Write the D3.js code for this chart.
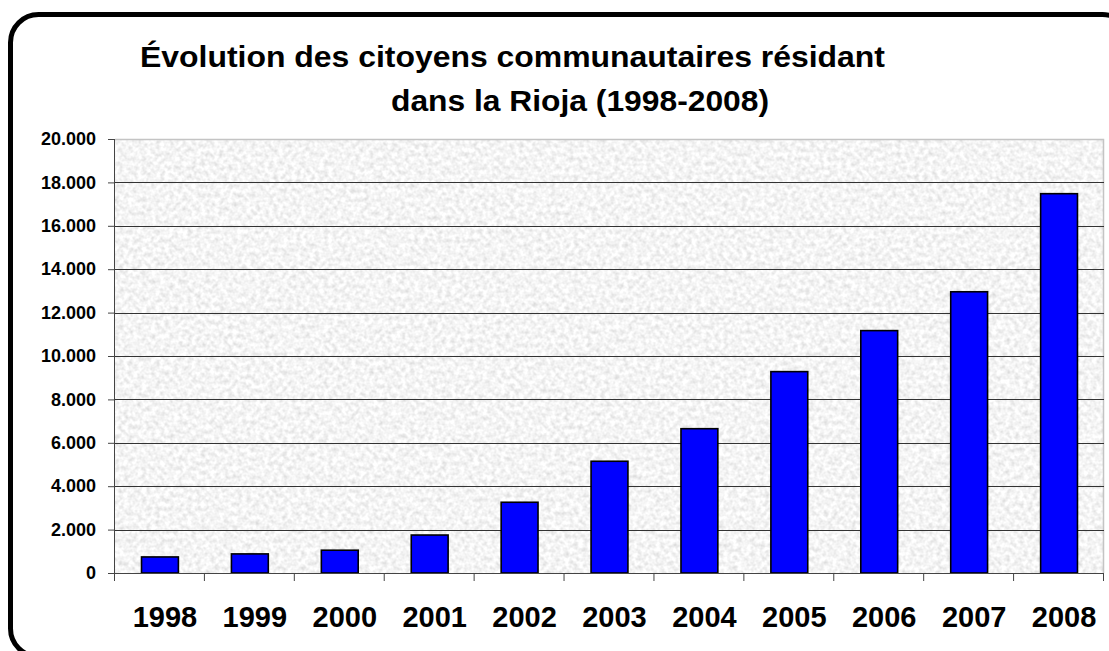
<!DOCTYPE html>
<html>
<head>
<meta charset="utf-8">
<script src="https://cdn.jsdelivr.net/npm/d3@7"></script>
<style>
  html, body { margin: 0; padding: 0; background: #fff; overflow: hidden; }
  text { font-family: 'Liberation Sans', Arial, Helvetica, sans-serif; font-weight: bold; fill: #000; }
</style>
</head>
<body>
<svg id="chart"></svg>
<script>
const years = ['1998', '1999', '2000', '2001', '2002', '2003', '2004', '2005', '2006', '2007', '2008']
const residents = [740, 880, 1050, 1750, 3260, 5150, 6650, 9280, 11170, 12960, 17480]
const yTicks = [0, 2000, 4000, 6000, 8000, 10000, 12000, 14000, 16000, 18000, 20000]
const titleLines = ['Évolution des citoyens communautaires résidant', 'dans la Rioja (1998-2008)']

const W = 1109
const H = 651
const margin = { top: 139, right: 5, bottom: 78, left: 115 }
const width = W - margin.left - margin.right
const height = H - margin.top - margin.bottom

const svg = d3.select('#chart').attr('width', W).attr('height', H)

// speckled grey texture of the plot area
const defs = svg.append('defs')
const tex = defs.append('filter')
  .attr('id', 'tex')
  .attr('filterUnits', 'userSpaceOnUse')
  .attr('x', 0).attr('y', 0)
  .attr('width', width).attr('height', height)
tex.append('feTurbulence')
  .attr('type', 'fractalNoise')
  .attr('baseFrequency', 0.22)
  .attr('numOctaves', 2)
  .attr('seed', 7)
tex.append('feColorMatrix')
  .attr('type', 'matrix')
  .attr('values', '0.5 0 0 0 0.66  0.5 0 0 0 0.66  0.5 0 0 0 0.66  0 0 0 0 1')

// outer rounded frame
svg.append('rect')
  .attr('x', 10.5).attr('y', 14.5)
  .attr('width', 1120).attr('height', 642)
  .attr('rx', 28).attr('ry', 28)
  .attr('fill', 'none')
  .attr('stroke', '#000')
  .attr('stroke-width', 5)

// title
const title = svg.append('g')
title.append('text')
  .attr('x', 140).attr('y', 67)
  .attr('font-size', 30)
  .attr('textLength', 745)
  .attr('lengthAdjust', 'spacingAndGlyphs')
  .text(titleLines[0])
title.append('text')
  .attr('x', 391).attr('y', 111)
  .attr('font-size', 30)
  .attr('textLength', 378)
  .attr('lengthAdjust', 'spacingAndGlyphs')
  .text(titleLines[1])

const g = svg.append('g').attr('transform', `translate(${margin.left},${margin.top})`)

const x = d3.scaleBand().domain(years).range([0, width]).padding(0)
const y = d3.scaleLinear().domain([0, 20000]).range([height, 0])

const fmt = d3.formatLocale({ decimal: ',', thousands: '.', grouping: [3], currency: ['', ''] }).format(',')

g.append('rect')
  .attr('width', width).attr('height', height)
  .attr('fill', '#ececec')
  .attr('filter', 'url(#tex)')

// plot border (top and right are light grey)
g.append('path')
  .attr('d', `M0,0.5H${width - 0.5}V${height}`)
  .attr('fill', 'none')
  .attr('stroke', '#c4c4c4')
  .attr('stroke-width', 1.5)

// gridlines
g.append('g')
  .selectAll('line')
  .data(yTicks.filter((d) => d > 0 && d < 20000))
  .join('line')
  .attr('x1', 0).attr('x2', width)
  .attr('y1', (d) => Math.round(y(d)) + 0.5)
  .attr('y2', (d) => Math.round(y(d)) + 0.5)
  .attr('stroke', '#333')
  .attr('stroke-width', 1)

// bars
const bw = x.bandwidth() * 0.41
g.append('g')
  .selectAll('rect')
  .data(years)
  .join('rect')
  .attr('x', (d) => x(d) + (x.bandwidth() - bw) / 2)
  .attr('y', (d, i) => y(residents[i]))
  .attr('width', bw)
  .attr('height', (d, i) => height - y(residents[i]))
  .attr('fill', '#0000ff')
  .attr('stroke', '#000')
  .attr('stroke-width', 1.6)

// y axis
const yAxis = g.append('g')
  .call(d3.axisLeft(y).tickValues(yTicks).tickFormat(fmt).tickSize(7).tickPadding(12))
yAxis.select('.domain').attr('stroke', '#444').attr('d', `M-0.5,0V${height}`)
yAxis.selectAll('.tick line').attr('stroke', '#444')
yAxis.selectAll('.tick text')
  .attr('font-size', 18)
  .attr('font-family', "'Liberation Sans', Arial, sans-serif")
  .attr('font-weight', 'bold')
  .attr('fill', '#000')

// x axis, ticks between categories
const xAxis = g.append('g').attr('transform', `translate(0,${height})`)
xAxis.append('line')
  .attr('x1', 0).attr('x2', width)
  .attr('y1', 0.5).attr('y2', 0.5)
  .attr('stroke', '#444')
xAxis.selectAll('line.tick')
  .data(years.concat(['end']))
  .join('line')
  .attr('class', 'tick')
  .attr('x1', (d, i) => (i < years.length ? x(d) : width) - 0.5)
  .attr('x2', (d, i) => (i < years.length ? x(d) : width) - 0.5)
  .attr('y1', 0).attr('y2', 8)
  .attr('stroke', '#444')
xAxis.selectAll('text')
  .data(years)
  .join('text')
  .attr('x', (d) => x(d) + x.bandwidth() / 2 + 5)
  .attr('y', 54)
  .attr('text-anchor', 'middle')
  .attr('font-size', 29)
  .text((d) => d)
</script>
</body>
</html>
